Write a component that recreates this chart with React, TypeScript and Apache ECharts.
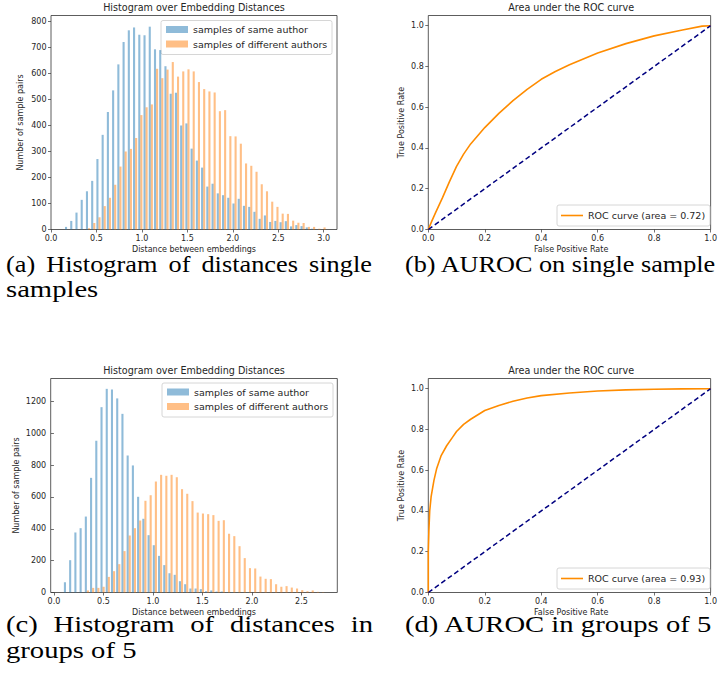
import React, { useEffect, useRef } from "react";
import * as echarts from "echarts";

// ---------- data ----------
const binStartA = 0.148;
const binWidthA = 0.05757;
const sameAuthorA = [10, 33, 65, 114, 147, 187, 271, 364, 452, 535, 635, 721, 766, 777, 749, 747, 780, 693, 690, 628, 522, 526, 400, 408, 311, 265, 238, 165, 176, 139, 132, 122, 100, 118, 91, 87, 68, 41, 54, 29, 33, 28, 32, 12, 17, 13, 8, 3, 1, 0];
const diffAuthorsA = [0, 0, 0, 0, 5, 25, 47, 90, 122, 172, 242, 300, 310, 352, 440, 470, 481, 618, 582, 615, 644, 588, 608, 616, 608, 567, 540, 531, 527, 455, 459, 359, 358, 330, 254, 245, 222, 174, 147, 107, 87, 61, 60, 34, 26, 25, 10, 10, 3, 8];

const binStartC = 0.095;
const binWidthC = 0.0528;
const sameAuthorC = [65, 203, 377, 404, 477, 720, 953, 1164, 1279, 1275, 1219, 1122, 860, 798, 601, 463, 360, 297, 230, 172, 121, 111, 71, 52, 25, 25, 21, 8, 13, 6, 6, 2, 3, 2, 1, 2, 0, 0, 0, 0, 0, 0, 0, 0, 0, 0, 0, 0, 0, 0];
const diffAuthorsC = [0, 0, 0, 0, 13, 29, 29, 36, 98, 134, 178, 260, 358, 404, 452, 576, 611, 697, 739, 733, 739, 724, 649, 620, 574, 502, 496, 492, 486, 450, 454, 369, 354, 291, 216, 153, 151, 100, 86, 84, 52, 36, 40, 31, 25, 15, 8, 13, 4, 2];

const rocSingle = [[0, 0], [0.012, 0.04], [0.025, 0.08], [0.05, 0.155], [0.075, 0.235], [0.1, 0.31], [0.125, 0.37], [0.15, 0.42], [0.2, 0.5], [0.25, 0.57], [0.3, 0.632], [0.35, 0.688], [0.4, 0.737], [0.45, 0.775], [0.5, 0.808], [0.6, 0.866], [0.7, 0.912], [0.8, 0.95], [0.9, 0.979], [0.97, 0.998], [1, 1]];
const rocGroups = [[0, 0], [0, 0.2], [0.002, 0.3], [0.005, 0.4], [0.01, 0.47], [0.02, 0.55], [0.03, 0.61], [0.045, 0.67], [0.065, 0.72], [0.085, 0.76], [0.1, 0.79], [0.125, 0.825], [0.15, 0.85], [0.2, 0.893], [0.25, 0.918], [0.3, 0.938], [0.35, 0.954], [0.4, 0.966], [0.5, 0.979], [0.6, 0.989], [0.7, 0.994], [0.8, 0.997], [0.9, 0.999], [1, 1]];
const chanceLine = [[0, 0], [1, 1]];

const distTicksA = [0, 0.5, 1, 1.5, 2, 2.5, 3];
const countTicksA = [0, 100, 200, 300, 400, 500, 600, 700, 800];
const distTicksC = [0, 0.5, 1, 1.5, 2, 2.5];
const countTicksC = [0, 200, 400, 600, 800, 1000, 1200];
const rateTicks = [0, 0.2, 0.4, 0.6, 0.8, 1];

const histTitle = "Histogram over Embedding Distances";
const rocTitle = "Area under the ROC curve";
const histXName = "Distance between embeddings";
const histYName = "Number of sample pairs";
const rocXName = "False Positive Rate";
const rocYName = "True Positive Rate";
const histLegend = ["samples of same author", "samples of different authors"];
const rocLegend = ["ROC curve (area = 0.72)", "ROC curve (area = 0.93)"];

// ---------- styles ----------
const SANS = "DejaVu Sans";
const SERIF = "Liberation Serif";
const TXT = "#262626";
const BLUE = "#1f77b4";
const ORANGE = "#ff7f0e";
const ROC_ORANGE = "#ff8c00";
const NAVY = "#000080";
const CAP_SIZE = 22.5;

const grids = [
  { left: 51, top: 15.5, width: 286, height: 214 },
  { left: 428.3, top: 15.5, width: 285.7, height: 214 },
  { left: 50.7, top: 378.5, width: 286.6, height: 214 },
  { left: 428.3, top: 378.5, width: 285.7, height: 214 },
];

function histData(start: number, w: number, vals: number[], slot: number) {
  return vals.map((v, i) => {
    const left = start + i * w;
    return [left + (0.1 + 0.4 * slot) * w, left + (0.5 + 0.4 * slot) * w, v];
  });
}

function rectRender(color: string) {
  return (_p: any, api: any) => {
    const a = api.coord([api.value(0), api.value(2)]);
    const b = api.coord([api.value(1), 0]);
    return {
      type: "rect",
      shape: { x: a[0], y: a[1], width: b[0] - a[0], height: b[1] - a[1] },
      style: { fill: color, opacity: 0.5 },
    };
  };
}

function axis(gridIndex: number, min: number, max: number, ticks: number[], fmt: (v: number) => string) {
  return {
    type: "value",
    gridIndex,
    min,
    max,
    axisLine: { show: false },
    splitLine: { show: false },
    axisTick: { show: true, length: 3, customValues: ticks, lineStyle: { color: "#333", width: 0.7 } },
    axisLabel: {
      show: true,
      customValues: ticks,
      formatter: (v: number) => fmt(v),
      fontSize: 8,
      fontFamily: SANS,
      color: TXT,
      margin: 4.5,
      showMinLabel: true,
      showMaxLabel: true,
    },
  };
}

function txt(x: number, y: number, text: string, size: number, align = "center", rot = 0, family = SANS, fill = TXT, scaleX = 1) {
  return {
    type: "text",
    x,
    y,
    rotation: rot,
    scaleX,
    silent: true,
    style: {
      text,
      fontSize: size,
      fontFamily: family,
      fill,
      align,
      verticalAlign: "middle",
      textAlign: align,
      textVerticalAlign: "middle",
    },
  };
}

function histLegendBox(x: number, y: number) {
  const els: any[] = [
    { type: "rect", shape: { x, y, width: 171, height: 34, r: 2 }, style: { fill: "rgba(255,255,255,0.8)", stroke: "#cccccc", lineWidth: 0.8 } },
  ];
  const cols = [BLUE, ORANGE];
  histLegend.forEach((label, i) => {
    const cy = y + 9 + i * 14.5;
    els.push({ type: "rect", shape: { x: x + 5, y: cy - 3.5, width: 22, height: 7 }, style: { fill: cols[i], opacity: 0.5 } });
    els.push(txt(x + 32, cy, label, 9.5, "left"));
  });
  return els;
}

function rocLegendBox(x: number, y: number, label: string) {
  return [
    { type: "rect", shape: { x, y, width: 153, height: 21, r: 2 }, style: { fill: "rgba(255,255,255,0.8)", stroke: "#cccccc", lineWidth: 0.8 } },
    { type: "line", shape: { x1: x + 4, y1: y + 10.5, x2: x + 26, y2: y + 10.5 }, style: { stroke: ROC_ORANGE, lineWidth: 1.6 } },
    txt(x + 31, y + 10.5, label, 9.5, "left"),
  ];
}

function captions(): any[] {
  const ctx = document.createElement("canvas").getContext("2d") as CanvasRenderingContext2D;
  ctx.font = `${CAP_SIZE}px "${SERIF}"`;
  const m = (s: string) => ctx.measureText(s).width;
  const k = 308 / m("(d) AUROC in groups of 5");
  const els: any[] = [];
  const justify = (words: string[], left: number, right: number, y: number, minGap: number) => {
    const raw = words.map((w) => m(w));
    const rawTotal = raw.reduce((a, b) => a + b, 0);
    const kk = Math.min(k, (right - left - minGap * (words.length - 1)) / rawTotal);
    const ws = raw.map((w) => w * kk);
    const total = ws.reduce((a, b) => a + b, 0);
    const gap = (right - left - total) / (words.length - 1);
    let x = left;
    words.forEach((w, i) => {
      els.push(txt(x, y, w, CAP_SIZE, "left", 0, SERIF, "#000", kk));
      x += ws[i] + gap;
    });
  };
  const fit = (s: string, x: number, y: number, width: number) =>
    els.push(txt(x, y, s, CAP_SIZE, "left", 0, SERIF, "#000", width / m(s)));
  const plain = (s: string, x: number, y: number) => els.push(txt(x, y, s, CAP_SIZE, "left", 0, SERIF, "#000", k));
  justify(["(a)", "Histogram", "of", "distances", "single"], 6, 372, 264, 11);
  plain("samples", 6, 290);
  fit("(b) AUROC on single sample", 405, 264, 312);
  justify(["(c)", "Histogram", "of", "distances", "in"], 6, 373, 625, 11);
  plain("groups of 5", 6, 651);
  fit("(d) AUROC in groups of 5", 405, 625, 308);
  return els;
}

export default function App() {
  const ref = useRef<HTMLDivElement>(null);
  useEffect(() => {
    if (!ref.current) return;
    const chart = echarts.init(ref.current, null, { renderer: "svg" });
    const f1 = (v: number) => v.toFixed(1);
    const f0 = (v: number) => String(Math.round(v));
    const cx = (g: any) => g.left + g.width / 2;
    const cy = (g: any) => g.top + g.height / 2;
    const [gA, gB, gC, gD] = grids;

    const graphic: any[] = [
      txt(cx(gA), 7.5, histTitle, 9.6),
      txt(cx(gB), 7.5, rocTitle, 9.6),
      txt(cx(gC), 370, histTitle, 9.6),
      txt(cx(gD), 370, rocTitle, 9.6),
      txt(cx(gA), 249, histXName, 8),
      txt(cx(gB), 249.5, rocXName, 8),
      txt(cx(gC), 612.3, histXName, 8),
      txt(cx(gD), 612.3, rocXName, 8),
      txt(20.7, cy(gA), histYName, 8, "center", Math.PI / 2),
      txt(401.7, cy(gB), rocYName, 8, "center", Math.PI / 2),
      txt(16, cy(gC), histYName, 8, "center", Math.PI / 2),
      txt(401.7, cy(gD), rocYName, 8, "center", Math.PI / 2),
      ...histLegendBox(161, 20.5),
      ...histLegendBox(162, 383),
      ...rocLegendBox(557, 205, rocLegend[0]),
      ...rocLegendBox(557, 568, rocLegend[1]),
      ...captions(),
    ];

    chart.setOption({
      animation: false,
      backgroundColor: "#ffffff",
      grid: grids.map((g) => ({ ...g, show: true, borderColor: "#333", borderWidth: 0.8, backgroundColor: "transparent", containLabel: false })),
      xAxis: [
        axis(0, 0, 3.146, distTicksA, f1),
        axis(1, 0, 1, rateTicks, f1),
        axis(2, -0.033, 2.862, distTicksC, f1),
        axis(3, 0, 1, rateTicks, f1),
      ],
      yAxis: [
        axis(0, 0, 823, countTicksA, f0),
        axis(1, 0, 1.05, rateTicks, f1),
        axis(2, 0, 1344, countTicksC, f0),
        axis(3, 0, 1.05, rateTicks, f1),
      ],
      series: [
        { type: "custom", name: histLegend[0], xAxisIndex: 0, yAxisIndex: 0, data: histData(binStartA, binWidthA, sameAuthorA, 0), encode: { x: [0, 1], y: 2 }, renderItem: rectRender(BLUE) },
        { type: "custom", name: histLegend[1], xAxisIndex: 0, yAxisIndex: 0, data: histData(binStartA, binWidthA, diffAuthorsA, 1), encode: { x: [0, 1], y: 2 }, renderItem: rectRender(ORANGE) },
        { type: "custom", name: histLegend[0], xAxisIndex: 2, yAxisIndex: 2, data: histData(binStartC, binWidthC, sameAuthorC, 0), encode: { x: [0, 1], y: 2 }, renderItem: rectRender(BLUE) },
        { type: "custom", name: histLegend[1], xAxisIndex: 2, yAxisIndex: 2, data: histData(binStartC, binWidthC, diffAuthorsC, 1), encode: { x: [0, 1], y: 2 }, renderItem: rectRender(ORANGE) },
        { type: "line", name: rocLegend[0], xAxisIndex: 1, yAxisIndex: 1, data: rocSingle, showSymbol: false, symbol: "none", lineStyle: { color: ROC_ORANGE, width: 1.6 }, z: 2 },
        { type: "line", xAxisIndex: 1, yAxisIndex: 1, data: chanceLine, showSymbol: false, symbol: "none", lineStyle: { color: NAVY, width: 1.5, type: [5, 3] }, z: 3 },
        { type: "line", name: rocLegend[1], xAxisIndex: 3, yAxisIndex: 3, data: rocGroups, showSymbol: false, symbol: "none", lineStyle: { color: ROC_ORANGE, width: 1.6 }, z: 2 },
        { type: "line", xAxisIndex: 3, yAxisIndex: 3, data: chanceLine, showSymbol: false, symbol: "none", lineStyle: { color: NAVY, width: 1.5, type: [5, 3] }, z: 3 },
      ],
      graphic: { elements: graphic },
    });
    return () => chart.dispose();
  }, []);
  return <div ref={ref} style={{ position: "absolute", left: 0, top: 0, width: 720, height: 697 }} />;
}
